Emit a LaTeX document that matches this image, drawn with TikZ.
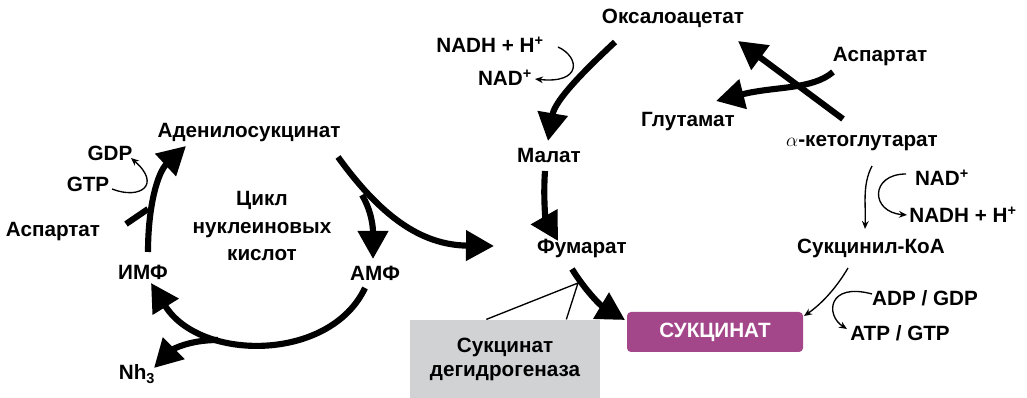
\documentclass[tikz,border=0pt]{standalone}
\usepackage{fontspec}
\setmainfont{Liberation Sans}
\usetikzlibrary{arrows.meta, positioning}
\definecolor{succpurple}{RGB}{164,70,138}
\definecolor{enzgray}{RGB}{209,210,212}

\begin{document}
\begin{tikzpicture}[x=0.75pt, y=-0.75pt,
    every node/.style={font=\fontsize{15.5}{20.5}\selectfont\bfseries, inner sep=1pt},
    fat/.style={line width=4.6pt, -{Triangle[length=21pt, width=22pt]}},
    fatline/.style={line width=4.6pt},
    sidearrow/.style={line width=1pt, -{Stealth[length=6pt, width=5pt]}},
    sideline/.style={line width=1pt}]
\useasboundingbox (0,0) rectangle (1027,398);

% nucleotide cycle
\node (aden) at (249,133) {Аденилосукцинат};
\node (gdp) at (110,153) {GDP};
\node (gtp) at (88,184) {GTP};
\node (aspL) at (53,232) {Аспартат};
\node[align=center] (cycle) at (262,226) {Цикл\\нуклеиновых\\кислот};
\node (imf) at (143,272) {ИМФ};
\node (amf) at (375,273) {АМФ};
\node (nh) at (137,374) {Nh\textsubscript{3}};

% citric acid side
\node (oxal) at (673,18) {Оксалоацетат};
\node (nadhA) at (490,45) {NADH + H\textsuperscript{+}};
\node (nadA) at (505,78) {NAD\textsuperscript{+}};
\node (aspR) at (880,57) {Аспартат};
\node (glut) at (688,122) {Глутамат};
\node (akg) at (862,143) {$\alpha$-кетоглутарат};
\node (malat) at (549,155) {Малат};
\node (nadB) at (942,178) {NAD\textsuperscript{+}};
\node (nadhB) at (963,215) {NADH + H\textsuperscript{+}};
\node (succoa) at (871,248) {Сукцинил-КоА};
\node (fum) at (582,248) {Фумарат};
\node (adp) at (925,298) {ADP / GDP};
\node (atp) at (900,333) {ATP / GTP};
\node[fill=succpurple, text=white, rounded corners=3pt, minimum width=132pt, minimum height=30pt] (succ) at (715,332) {СУКЦИНАТ};
\node[fill=enzgray, align=center, minimum width=142pt, minimum height=59pt, font=\fontsize{15.5}{18}\selectfont\bfseries] (sdh) at (505,359) {Сукцинат\\дегидрогеназа};

\coordinate (imfTop) at (148,252);
\coordinate (adenIn) at (186,146);
\coordinate (aspStart) at (126,224);
\coordinate (aspJoin) at (148,209);
\coordinate (gtpEnd) at (112,189);
\coordinate (gdpEnd) at (131,158);
\coordinate (adenOut) at (338,157);
\coordinate (amfSplit) at (362,195);
\coordinate (amfIn) at (373,259);
\coordinate (fumIn) at (494,246);
\coordinate (amfOut) at (365,288);
\coordinate (imfIn) at (151,283);
\coordinate (nhSplit) at (218,340);
\coordinate (nhIn) at (154,368);
\coordinate (oxalOut) at (615,42);
\coordinate (malatIn) at (548,141);
\coordinate (nadhEnd) at (558,47);
\coordinate (nadEnd) at (535,79);
\coordinate (malatOut) at (545,171);
\coordinate (fumTop) at (558,241);
\coordinate (fumOut) at (572,269);
\coordinate (succIn) at (625,320);
\coordinate (sdhJoin) at (578,283);
\coordinate (akgOut) at (843,119);
\coordinate (oxalIn) at (738,41);
\coordinate (aspOut) at (833,72);
\coordinate (glutIn) at (716,101);
\coordinate (akgDown) at (872,166);
\coordinate (succoaIn) at (865,229);
\coordinate (nadStart) at (906,174);
\coordinate (nadhEnd2) at (907,215);
\coordinate (succoaOut) at (848,268);
\coordinate (succEnd) at (804,316);
\coordinate (adpStart) at (872,294);
\coordinate (atpEnd) at (847,329);

\draw[fat] (imfTop) .. controls (148,205) and (158,172) .. (adenIn);
\draw[fatline] (aspStart) -- (aspJoin);
\draw[sidearrow] (gtpEnd) .. controls (140,200) and (162,185) .. (gdpEnd);
\draw[fat] (adenOut) .. controls (380,215) and (420,245) .. (fumIn);
\draw[fat] (amfSplit) .. controls (372,212) and (373,228) .. (amfIn);
\draw[fat] (amfOut) .. controls (330,362) and (200,362) .. (imfIn);
\draw[fat] (nhSplit) .. controls (188,340) and (172,350) .. (nhIn);

\draw[fat] (oxalOut) .. controls (585,70) and (555,100) .. (malatIn);
\draw[sidearrow] (nadhEnd) .. controls (580,57) and (582,84) .. (nadEnd);
\draw[fat] (malatOut) .. controls (543,200) and (546,220) .. (fumTop);
\draw[fat] (fumOut) .. controls (585,290) and (600,305) .. (succIn);
\draw[sideline] ([xshift=-14pt]sdh.north) -- (sdhJoin) -- ([xshift=46pt]sdh.north);

\draw[fat] (akgOut) -- (oxalIn);
\draw[fat] (aspOut) .. controls (812,90) and (775,86) .. (glutIn);
\draw[sidearrow] (akgDown) .. controls (862,185) and (866,205) .. (succoaIn);
\draw[sidearrow] (nadStart) .. controls (870,174) and (870,212) .. (nadhEnd2);
\draw[sidearrow] (succoaOut) .. controls (835,290) and (820,305) .. (succEnd);
\draw[sidearrow] (adpStart) .. controls (828,282) and (825,315) .. (atpEnd);
\end{tikzpicture}
\end{document}
